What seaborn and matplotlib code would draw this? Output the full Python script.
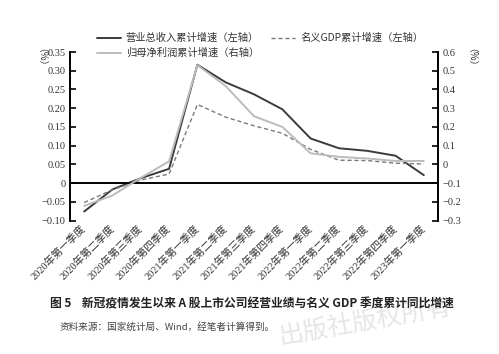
import numpy as np
import pandas as pd
import matplotlib
matplotlib.use("Agg")
import matplotlib.pyplot as plt
from matplotlib.ticker import FuncFormatter
import seaborn as sns

# Quarter labels and series
quarters = ["2020年第一季度", "2020年第二季度", "2020年第三季度", "2020年第四季度",
            "2021年第一季度", "2021年第二季度", "2021年第三季度", "2021年第四季度",
            "2022年第一季度", "2022年第二季度", "2022年第三季度", "2022年第四季度",
            "2023年第一季度"]
revenue = [-0.076, -0.017, 0.013, 0.038, 0.316, 0.269, 0.237, 0.197,
           0.119, 0.093, 0.086, 0.073, 0.021]
gdp = [-0.052, -0.018, 0.008, 0.024, 0.210, 0.176, 0.153, 0.133,
       0.090, 0.061, 0.060, 0.053, 0.051]
profit = [-0.222, -0.166, -0.072, 0.016, 0.530, 0.418, 0.257, 0.200,
          0.059, 0.040, 0.031, 0.018, 0.018]

left_ticks = [-0.10, -0.05, 0, 0.05, 0.10, 0.15, 0.20, 0.25, 0.30, 0.35]
right_ticks = [-0.3, -0.2, -0.1, 0, 0.1, 0.2, 0.3, 0.4, 0.5, 0.6]

df = pd.DataFrame({"pos": np.arange(len(quarters)), "quarter": quarters,
                   "revenue": revenue, "gdp": gdp, "profit": profit})

sns.set_style("white")
plt.rcParams["font.family"] = ["Liberation Serif", "Noto Sans CJK SC"]
cjk = ["Noto Sans CJK SC"]

fig = plt.figure(figsize=(4.99, 3.54), dpi=100)
ax = fig.add_axes([70 / 499, 1 - 220.5 / 354, 368 / 499, 168.5 / 354])
ax2 = ax.twinx()

c_rev, c_gdp, c_pro = "#3b3b3b", "#7a7a7a", "#bcbcbc"
sns.lineplot(data=df, x="pos", y="revenue", ax=ax, color=c_rev, lw=1.4,
             label="营业总收入累计增速（左轴）", legend=False)
sns.lineplot(data=df, x="pos", y="gdp", ax=ax, color=c_gdp, lw=1.0,
             linestyle=(0, (3, 2)), label="名义GDP累计增速（左轴）", legend=False)
sns.lineplot(data=df, x="pos", y="profit", ax=ax2, color=c_pro, lw=1.4,
             label="归母净利润累计增速（右轴）", legend=False)

ax.set_xlim(-0.5, len(quarters) - 0.5)
ax.set_ylim(-0.10, 0.35)
ax2.set_ylim(-0.3, 0.6)
ax.set_xlabel("")
ax.set_ylabel("")
ax2.set_ylabel("")


def fmt(v, decimals):
    if abs(v) < 1e-9:
        return "0"
    s = f"{abs(v):.{decimals}f}"
    return ("−" + s) if v < 0 else s


ax.set_yticks(left_ticks)
ax.yaxis.set_major_formatter(FuncFormatter(lambda v, p: fmt(v, 2)))
ax2.set_yticks(right_ticks)
ax2.yaxis.set_major_formatter(FuncFormatter(lambda v, p: fmt(v, 1)))

# zero line carries the category separators
ax.spines["bottom"].set_position(("data", 0))
ax.set_xticks(np.arange(len(quarters) - 1) + 0.5)
ax.set_xticklabels([])
ax.tick_params(axis="x", direction="in", length=4, width=1.2, color="black")

sec = ax.secondary_xaxis("bottom")
sec.set_xticks(df["pos"])
sec.set_xticklabels(df["quarter"], rotation=45, ha="right", va="center",
                    rotation_mode="anchor", fontsize=7.5, color="#333333")
sec.tick_params(length=0, pad=5)
sec.spines["bottom"].set_visible(False)

for a in (ax, ax2):
    a.spines["top"].set_visible(False)
    a.tick_params(axis="y", direction="in", length=4, width=1.2, labelsize=7.5,
                  colors="black", labelcolor="#333333", pad=3)
ax2.spines["bottom"].set_visible(False)
ax2.spines["left"].set_visible(False)
ax.spines["right"].set_visible(False)
for s in ("left", "bottom"):
    ax.spines[s].set_linewidth(1.4)
    ax.spines[s].set_color("black")
ax2.spines["right"].set_linewidth(1.4)
ax2.spines["right"].set_color("black")

fig.text(36 / 499, 1 - 62 / 354, "（%）", rotation=-90, ha="center", va="center",
         fontsize=7, family=cjk, color="#333333")
fig.text(466 / 499, 1 - 62 / 354, "（%）", rotation=-90, ha="center", va="center",
         fontsize=7, family=cjk, color="#333333")

h1, l1 = ax.get_legend_handles_labels()
h2, l2 = ax2.get_legend_handles_labels()
handles = [h1[0], h2[0], h1[1]]
labels = [l1[0], l2[0], l1[1]]
fig.legend(handles, labels, ncol=2, loc="upper left",
           bbox_to_anchor=(97 / 499, 1 - 33 / 354), frameon=False,
           borderpad=0, borderaxespad=0, handlelength=2.3, handletextpad=0.5,
           columnspacing=1.2, labelspacing=0.45,
           prop={"family": cjk, "size": 7.4}, labelcolor="#333333")

fig.text(50 / 499, 1 - 304 / 354,
         "图 5    新冠疫情发生以来 A 股上市公司经营业绩与名义 GDP 季度累计同比增速",
         ha="left", va="center", fontsize=8.5, fontweight="bold",
         family=cjk, color="#222222")
fig.text(60 / 499, 1 - 327 / 354, "资料来源：国家统计局、Wind，经笔者计算得到。",
         ha="left", va="center", fontsize=6.9, family=cjk, color="#444444")
fig.text(365 / 499, 1 - 322 / 354, "出版社版权所有", rotation=10,
         ha="center", va="center", fontsize=18, fontweight="light",
         family=cjk, color="#e6e6e6", zorder=-1)

fig.savefig("out.png", dpi=100)
